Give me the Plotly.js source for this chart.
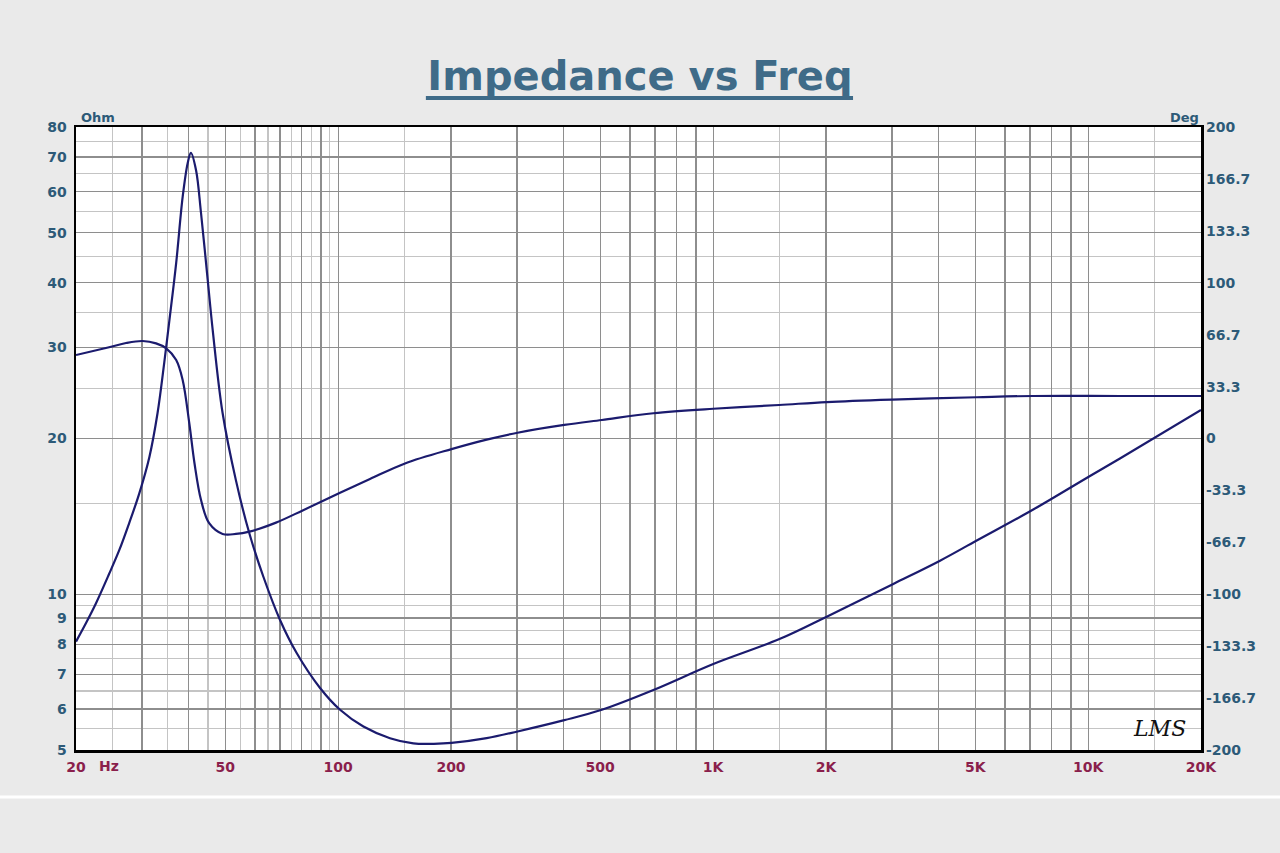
<!DOCTYPE html>
<html>
<head>
<meta charset="utf-8">
<script src="https://cdn.plot.ly/plotly-3.0.1.min.js"></script>
<style>
html,body{margin:0;padding:0;background:#eaeaea;}
#chart{width:1280px;height:853px;}
</style>
</head>
<body>
<div id="chart"></div>
<script>
// Impedance magnitude (Ohm) vs frequency (Hz)
const impFreq = [20, 21.27, 22.6, 24.5, 26.1, 27.7, 29.5, 31.4, 33.0, 34.4, 35.5, 37.0, 38.5, 39.7, 40.5, 41.8, 43.1, 44.9, 46.3, 49.2, 53.4, 58.0, 63.2, 70.0, 77.6, 89.5, 101.2, 116.8, 137.5, 158.7, 180, 200.6, 249, 301, 401, 505, 693, 1001, 1508, 2009, 3024, 4028, 5046, 7140, 10116, 12160, 20000];
const impOhm  = [8.1, 8.8, 9.6, 10.94, 12.18, 13.7, 15.67, 18.45, 22.4, 28.1, 33.9, 43.7, 58.6, 68.1, 71.3, 66.0, 54.5, 40.5, 32.4, 22.4, 16.6, 13.1, 10.81, 8.92, 7.69, 6.59, 5.98, 5.55, 5.27, 5.15, 5.14, 5.16, 5.27, 5.43, 5.71, 5.98, 6.53, 7.33, 8.2, 9.05, 10.47, 11.61, 12.7, 14.58, 16.93, 18.3, 22.7];

// Phase (Deg) vs frequency (Hz)
const phFreq = [20, 24.5, 27.2, 30.1, 32.7, 34.8, 37.0, 38.5, 40.1, 41.4, 43.1, 45.3, 49.2, 53.4, 58.0, 68.3, 80.7, 101.2, 121.6, 150.8, 200.6, 249, 301, 401, 505, 693, 1001, 1500, 2009, 3000, 5046, 7140, 12160, 20000];
const phDeg  = [53.6, 58.6, 61.3, 62.6, 61.1, 57.9, 50.4, 37.6, 9.8, -15.9, -39.5, -54.4, -61.3, -61.3, -59.8, -54.0, -46.0, -34.8, -26.0, -16.0, -6.8, -0.7, 3.7, 8.7, 11.9, 16.2, 19.1, 21.5, 23.4, 25.0, 26.5, 27.3, 27.3, 27.3];

// Axis ticks
const xMajorVals = [20,30,40,50,60,70,80,90,100,200,300,400,500,600,700,800,900,1000,2000,3000,4000,5000,6000,7000,8000,9000,10000,20000];
const xMajorText = ['20','','','50','','','','','100','200','','','500','','','','','1K','2K','','','5K','','','','','10K','20K'];
const xMinorVals = [25,35,45,55,65,75,85,95,150,1500,15000];

const yMajorVals = [5,6,7,8,9,10,20,30,40,50,60,70,80];
const yMajorText = ['5','6','7','8','9','10','20','30','40','50','60','70','80'];
const yMinorVals = [5.5,6.5,7.5,8.5,9.5,15,25,35,45,55,65,75];

const y2Vals = [-200,-166.7,-133.3,-100,-66.7,-33.3,0,33.3,66.7,100,133.3,166.7,200];
const y2Text = ['-200','-166.7','-133.3','-100','-66.7','-33.3','0','33.3','66.7','100','133.3','166.7','200'];

const lineColor = '#1b1b6e';
const blueText = '#2d5a78';
const redText = '#8a1f4c';
const fam = 'DejaVu Sans, Verdana, sans-serif';
const tickFont = {family:fam, size:14, color:blueText, weight:'bold'};

const traces = [
  {x: impFreq, y: impOhm, type:'scatter', mode:'lines', xaxis:'x', yaxis:'y',
   line:{color:lineColor, width:2.2, shape:'spline', smoothing:1}, hoverinfo:'x+y', name:'Impedance'},
  {x: phFreq, y: phDeg, type:'scatter', mode:'lines', xaxis:'x', yaxis:'y2',
   line:{color:lineColor, width:2.2, shape:'spline', smoothing:1}, hoverinfo:'x+y', name:'Phase'}
];

const layout = {
  width:1280, height:853,
  paper_bgcolor:'#eaeaea', plot_bgcolor:'#ffffff',
  margin:{l:76, r:79, t:127, b:103},
  showlegend:false,
  title:{text:'<b>Impedance vs Freq</b>', x:0.5, xanchor:'center', y:0.911, yanchor:'middle', yref:'container',
         font:{family:fam, size:40, color:'#3f6b88'}},
  xaxis:{type:'log', range:[Math.log10(20), Math.log10(20000)],
         tickmode:'array', tickvals:xMajorVals, ticktext:xMajorText, ticks:'',
         showgrid:true, gridcolor:'#8e8e8e', gridwidth:1.2,
         minor:{tickvals:xMinorVals, showgrid:true, gridcolor:'#c4c4c4', gridwidth:1.2, ticks:''},
         showline:true, linecolor:'#000', linewidth:2.5, mirror:true, zeroline:false,
         tickfont:{family:fam, size:14, color:redText, weight:'bold'},
         ticklabelstandoff:3},
  yaxis:{type:'log', range:[Math.log10(5), Math.log10(80)],
         tickmode:'array', tickvals:yMajorVals, ticktext:yMajorText, ticks:'',
         showgrid:true, gridcolor:'#8e8e8e', gridwidth:1.2,
         minor:{tickvals:yMinorVals, showgrid:true, gridcolor:'#c4c4c4', gridwidth:1.2, ticks:''},
         showline:true, linecolor:'#000', linewidth:2.5, mirror:true, zeroline:false,
         tickfont:tickFont, ticklabelstandoff:4},
  yaxis2:{overlaying:'y', side:'right', range:[-200,200],
         tickmode:'array', tickvals:y2Vals, ticktext:y2Text, ticks:'',
         showgrid:false, zeroline:false, showline:false,
         tickfont:tickFont, ticklabelstandoff:4},
  annotations:[
    {text:'<b>Ohm</b>', xref:'paper', yref:'paper', x:0.0027, y:1.0, xanchor:'left', yanchor:'bottom', showarrow:false,
     font:{family:fam, size:13, color:blueText}},
    {text:'<b>Deg</b>', xref:'paper', yref:'paper', x:1.0, y:1.0, xanchor:'right', yanchor:'bottom', showarrow:false,
     font:{family:fam, size:13, color:blueText}},
    {text:'<b>Hz</b>', xref:'paper', yref:'paper', x:0.0185, y:-0.01, xanchor:'left', yanchor:'top', showarrow:false,
     font:{family:fam, size:14, color:redText}},
    {text:'<i>LMS</i>', xref:'paper', yref:'paper', x:0.963, y:0.035, xanchor:'center', yanchor:'middle', showarrow:false,
     font:{family:'DejaVu Serif, serif', size:22, color:'#111'}}
  ],
  shapes:[
    {type:'line', xref:'paper', yref:'paper', x0:0.311, x1:0.6907, y0:1.0465, y1:1.0465,
     line:{color:'#3f6b88', width:4}},
    {type:'line', xref:'paper', yref:'paper', x0:-0.07, x1:1.075, y0:-0.0754, y1:-0.0754,
     line:{color:'#ffffff', width:3}}
  ]
};

Plotly.newPlot('chart', traces, layout, {displayModeBar:false, staticPlot:true});
</script>
</body>
</html>
